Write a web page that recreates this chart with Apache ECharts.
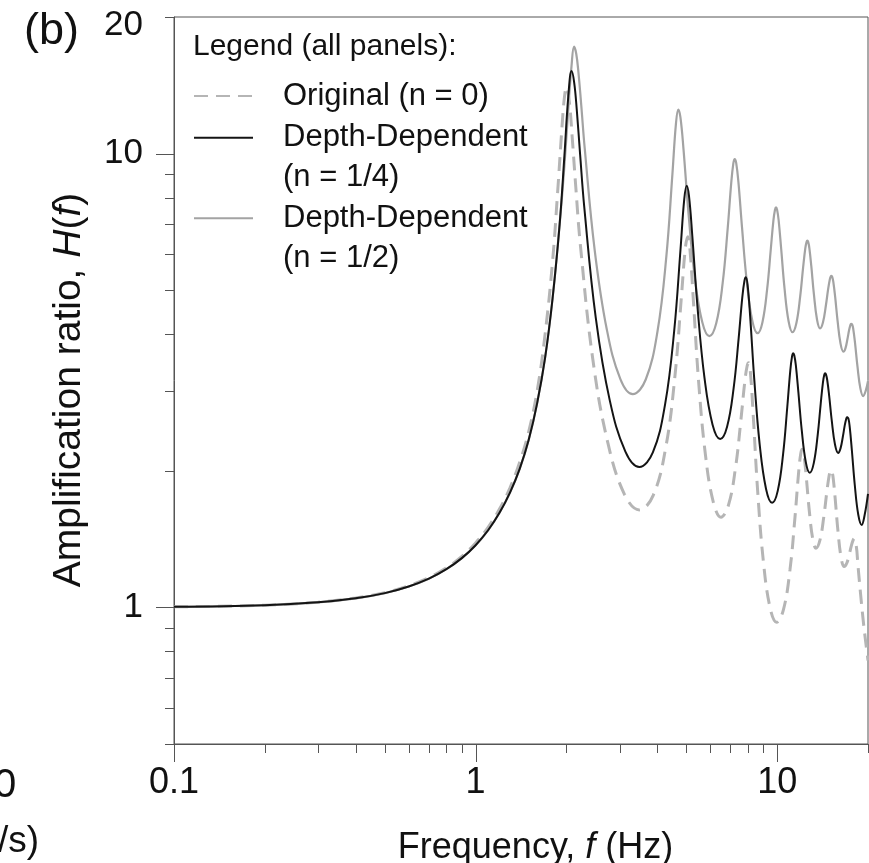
<!DOCTYPE html>
<html><head><meta charset="utf-8">
<script src="https://cdn.jsdelivr.net/npm/echarts@6/dist/echarts.min.js"></script>
<style>html,body{margin:0;padding:0;background:#fff}#c{width:869px;height:863px}</style>
</head><body><div id="c"></div>
<script>
const FONT = '"Liberation Sans", Arial, Helvetica, sans-serif';

// ---- Original (n = 0) ----
const freqN0 = [0.1,0.2,0.3,0.4,0.5,0.6,0.7,0.8,0.9,1.0,1.1,1.2,1.3,1.4,1.5,1.6,1.7,1.8,1.87,1.94,1.97,2.0,
 2.045,2.089,2.149,2.224,2.447,2.745,3.118,3.49,
 3.88,4.27,4.582,4.816,4.956,5.05,
 5.138,5.269,5.488,5.78,6.145,6.51,
 6.893,7.275,7.581,7.811,7.948,8.04,
 8.155,8.327,8.613,8.995,9.473,9.95,
 10.488,11.025,11.455,11.778,11.971,12.1,
 12.181,12.303,12.505,12.775,13.113,13.45,
 13.863,14.275,14.605,14.853,15.001,15.1,
 15.194,15.336,15.571,15.885,16.278,16.67,
 17.018,17.365,17.643,17.852,17.977,18.06,
 18.3,18.5,18.9,19.3,19.65,20];
const ampN0 = [1.003,1.011,1.027,1.049,1.078,1.116,1.163,1.222,1.295,1.387,1.501,1.647,1.835,2.09,2.44,3.0,4.0,5.8,8.2,11.8,13.3,14.0,
 13.0,10.94,8.43,6.313,3.521,2.304,1.773,1.64,
 1.766,2.25,3.243,4.866,6.163,6.56,
 6.134,4.778,3.146,2.172,1.702,1.58,
 1.68,2.033,2.592,3.15,3.403,3.46,
 3.277,2.65,1.807,1.266,0.997,0.927,
 0.989,1.211,1.582,1.986,2.184,2.23,
 2.213,2.132,1.915,1.633,1.417,1.35,
 1.408,1.585,1.797,1.946,1.999,2.01,
 1.995,1.924,1.734,1.484,1.291,1.23,
 1.253,1.315,1.374,1.407,1.418,1.42,
 1.36,1.25,1.07,0.93,0.84,0.764];

// ---- Depth-Dependent (n = 1/4) ----
const freqN14 = [0.1,0.2,0.3,0.4,0.5,0.6,0.7,0.8,0.9,1.0,1.1,1.2,1.3,1.4,1.5,1.6,1.7,1.8,1.9,1.97,2.03,2.08,
 2.122,2.165,2.221,2.292,2.503,2.785,3.138,3.49,
 3.87,4.25,4.554,4.782,4.919,5.01,
 5.098,5.229,5.448,5.74,6.105,6.47,
 6.82,7.17,7.45,7.66,7.786,7.87,
 7.975,8.133,8.395,8.745,9.183,9.62,
 10.04,10.46,10.796,11.048,11.199,11.3,
 11.391,11.528,11.756,12.06,12.44,12.82,
 13.22,13.62,13.94,14.18,14.324,14.42,
 14.51,14.645,14.87,15.17,15.545,15.92,
 16.215,16.51,16.746,16.923,17.029,17.1,
 17.218,17.394,17.688,18.08,18.57,19.06,
 19.5,20];
const ampN14 = [1.003,1.011,1.026,1.047,1.075,1.112,1.157,1.214,1.284,1.371,1.479,1.616,1.791,2.02,2.34,2.82,3.55,4.8,7.0,9.9,13.4,15.2,
 14.36,12.48,9.95,7.63,4.345,2.859,2.205,2.04,
 2.197,2.805,4.065,6.18,7.944,8.5,
 8.079,6.6,4.55,3.203,2.527,2.35,
 2.502,3.042,3.917,4.821,5.244,5.34,
 5.142,4.385,3.176,2.291,1.824,1.7,
 1.806,2.177,2.757,3.322,3.574,3.63,
 3.593,3.417,2.977,2.458,2.09,1.98,
 2.079,2.397,2.813,3.134,3.255,3.28,
 3.262,3.174,2.926,2.576,2.285,2.19,
 2.241,2.38,2.518,2.599,2.625,2.63,
 2.607,2.498,2.214,1.861,1.6,1.52,
 1.6,1.78];

// ---- Depth-Dependent (n = 1/2) ----
const freqN12 = [0.1,0.2,0.3,0.4,0.5,0.6,0.7,0.8,0.9,1.0,1.1,1.2,1.3,1.4,1.5,1.6,1.7,1.8,1.9,1.97,2.03,2.08,2.12,
 2.156,2.192,2.24,2.3,2.48,2.72,3.02,3.32,
 3.665,4.01,4.286,4.493,4.617,4.7,
 4.776,4.889,5.078,5.33,5.645,5.96,
 6.278,6.595,6.849,7.04,7.154,7.23,
 7.313,7.437,7.644,7.92,8.265,8.61,
 8.935,9.26,9.52,9.715,9.832,9.91,
 9.99,10.11,10.309,10.575,10.908,11.24,
 11.578,11.915,12.185,12.388,12.509,12.59,
 12.667,12.782,12.974,13.23,13.55,13.87,
 14.185,14.5,14.752,14.941,15.054,15.13,
 15.217,15.348,15.565,15.855,16.218,16.58,
 16.843,17.105,17.315,17.473,17.567,17.63,
 17.729,17.878,18.125,18.455,18.868,19.28,
 19.65,20];
const ampN12 = [1.003,1.011,1.026,1.047,1.075,1.112,1.157,1.214,1.284,1.371,1.479,1.616,1.791,2.02,2.34,2.82,3.55,4.8,7.0,9.4,12.6,15.6,17.2,
 16.6,15.13,12.79,10.28,6.158,4.112,3.185,2.95,
 3.178,4.06,5.896,9.012,11.66,12.5,
 12.03,10.245,7.408,5.339,4.25,3.96,
 4.227,5.187,6.815,8.618,9.52,9.73,
 9.527,8.652,6.878,5.254,4.289,4.02,
 4.251,5.027,6.147,7.125,7.524,7.61,
 7.525,7.131,6.162,5.046,4.271,4.04,
 4.232,4.838,5.605,6.177,6.387,6.43,
 6.389,6.192,5.648,4.906,4.31,4.12,
 4.251,4.626,5.027,5.28,5.363,5.38,
 5.353,5.217,4.833,4.28,3.813,3.66,
 3.728,3.91,4.084,4.183,4.214,4.22,
 4.2,4.1,3.814,3.396,3.038,2.92,
 3.0,3.15];

// ---- series names ----
const seriesNames = ['Original (n = 0)', 'Depth-Dependent\n(n = 1/4)', 'Depth-Dependent\n(n = 1/2)'];

// ---- axes ----
const xMin = 0.1, xMax = 20, yMin = 0.5, yMax = 20;
const xTickLabels = ['0.1', '1', '10'];
const yTickLabels = ['1', '10', '20'];
const xMajorTicks = [0.1, 1, 10];
const xMinorTicks = [0.2,0.3,0.4,0.5,0.6,0.7,0.8,0.9,2,3,4,5,6,7,8,9,20];
const yMajorTicks = [1, 10];
const yMinorTicks = [0.5,0.6,0.7,0.8,0.9,2,3,4,5,6,7,8,9,20];

const pairs = (xs, ys) => xs.map((x, i) => [x, ys[i]]);
const fmt = v => v < 1 ? String(+v.toFixed(1)) : String(Math.round(v));
const TICK = '#555';

const chart = echarts.init(document.getElementById('c'), null, {renderer: 'canvas'});

const legendCommon = {
  orient: 'vertical', left: 193, padding: 0, itemWidth: 59, itemHeight: 14, itemGap: 0,
  selectedMode: false,
  itemStyle: {opacity: 0},
  textStyle: {fontSize: 31, lineHeight: 40, color: '#111', fontFamily: FONT, padding: [0, 0, 0, 25]},
  formatter: n => n.indexOf('\n') >= 0 ? '\n' + n : n
};

chart.setOption({
  animation: false,
  backgroundColor: '#fff',
  title: {
    text: 'Legend (all panels):', left: 193, top: 27, padding: 0,
    textStyle: {fontSize: 30, lineHeight: 40, fontWeight: 'normal', color: '#111', fontFamily: FONT}
  },
  legend: [
    Object.assign({}, legendCommon, {data: [seriesNames[0]], top: 76}),
    Object.assign({}, legendCommon, {data: [seriesNames[1]], top: 77.7}),
    Object.assign({}, legendCommon, {data: [seriesNames[2]], top: 158.3})
  ],
  grid: {left: 174, right: 1, top: 17, bottom: 119, containLabel: false, outerBoundsMode: 'none',
    show: true, borderColor: TICK, borderWidth: 1, backgroundColor: 'transparent'},
  xAxis: {
    type: 'log', logBase: 10, min: xMin, max: xMax,
    axisLine: {show: true, lineStyle: {color: TICK, width: 1}},
    axisTick: {show: false}, splitLine: {show: false},
    axisLabel: {
      margin: 21, fontSize: 36, color: '#111', fontFamily: FONT,
      formatter: v => xTickLabels.indexOf(fmt(v)) >= 0 ? fmt(v) : ''
    },
    name: 'Frequency, {i|f} (Hz)', nameLocation: 'middle', nameGap: 86,
    nameTextStyle: {fontSize: 36, color: '#111', fontFamily: FONT, padding: [0, 0, 0, 29],
      rich: {i: {fontStyle: 'italic', fontSize: 36, color: '#111', fontFamily: FONT}}}
  },
  yAxis: {
    type: 'log', logBase: 10, min: yMin, max: yMax,
    axisLine: {show: true, lineStyle: {color: TICK, width: 1}},
    axisTick: {show: false}, splitLine: {show: false},
    axisLabel: {
      margin: 31, fontSize: 35, color: '#111', fontFamily: FONT,
      formatter: v => {
        const s = fmt(v);
        if (yTickLabels.indexOf(s) < 0) return '';
        return v >= yMax * 0.999 ? '{top|' + s + '}' : s;
      },
      rich: {top: {padding: [16, 0, 0, 0], fontSize: 35, color: '#111', fontFamily: FONT}}
    },
    name: 'Amplification ratio, {i|H}({i|f})', nameLocation: 'middle', nameGap: 85,
    nameTextStyle: {fontSize: 39, color: '#111', fontFamily: FONT, padding: [0, 19, 0, 0],
      rich: {i: {fontStyle: 'italic', fontSize: 39, color: '#111', fontFamily: FONT}}}
  },
  graphic: [
    {type: 'text', x: 24, y: 9, style: {text: '(b)', fontSize: 45, fontFamily: FONT, fill: '#111', verticalAlign: 'top'}},
    {type: 'text', x: -6, y: 766, style: {text: '0', fontSize: 40, fontFamily: FONT, fill: '#111', verticalAlign: 'top'}},
    {type: 'text', x: -2, y: 823, style: {text: '/s)', fontSize: 37, fontFamily: FONT, fill: '#111', verticalAlign: 'top'}}
  ],
  series: [
    {
      name: seriesNames[0], type: 'line', data: pairs(freqN0, ampN0), symbol: 'none', showSymbol: false,
      smooth: 0.4, z: 3,
      lineStyle: {color: '#b5b5b5', width: 3, type: [14, 8]}, itemStyle: {color: '#b5b5b5'}
    },
    {
      name: seriesNames[1], type: 'line', data: pairs(freqN14, ampN14), symbol: 'none', showSymbol: false,
      smooth: 0.4, z: 4,
      lineStyle: {color: '#141414', width: 2}, itemStyle: {color: '#141414'}
    },
    {
      name: seriesNames[2], type: 'line', data: pairs(freqN12, ampN12), symbol: 'none', showSymbol: false,
      smooth: 0.4, z: 2,
      lineStyle: {color: '#a3a3a3', width: 2.2}, itemStyle: {color: '#a3a3a3'}
    },
    {
      name: 'xTicks', type: 'custom', silent: true, clip: false, z: 6,
      data: xMajorTicks.map(v => [v, yMin, 18]).concat(xMinorTicks.map(v => [v, yMin, 9])),
      encode: {x: 0, y: 1},
      renderItem: (params, api) => {
        const p = api.coord([api.value(0), api.value(1)]);
        const x = Math.round(p[0]) + 0.5;
        return {type: 'line', shape: {x1: x, y1: p[1], x2: x, y2: p[1] + api.value(2)}, style: {stroke: TICK, lineWidth: 1}};
      }
    },
    {
      name: 'yTicks', type: 'custom', silent: true, clip: false, z: 6,
      data: yMajorTicks.map(v => [xMin, v, 18]).concat(yMinorTicks.map(v => [xMin, v, 9])),
      encode: {x: 0, y: 1},
      renderItem: (params, api) => {
        const p = api.coord([api.value(0), api.value(1)]);
        const y = Math.round(p[1]) + 0.5;
        return {type: 'line', shape: {x1: p[0] - api.value(2), y1: y, x2: p[0], y2: y}, style: {stroke: TICK, lineWidth: 1}};
      }
    }
  ]
});
</script>
</body></html>
